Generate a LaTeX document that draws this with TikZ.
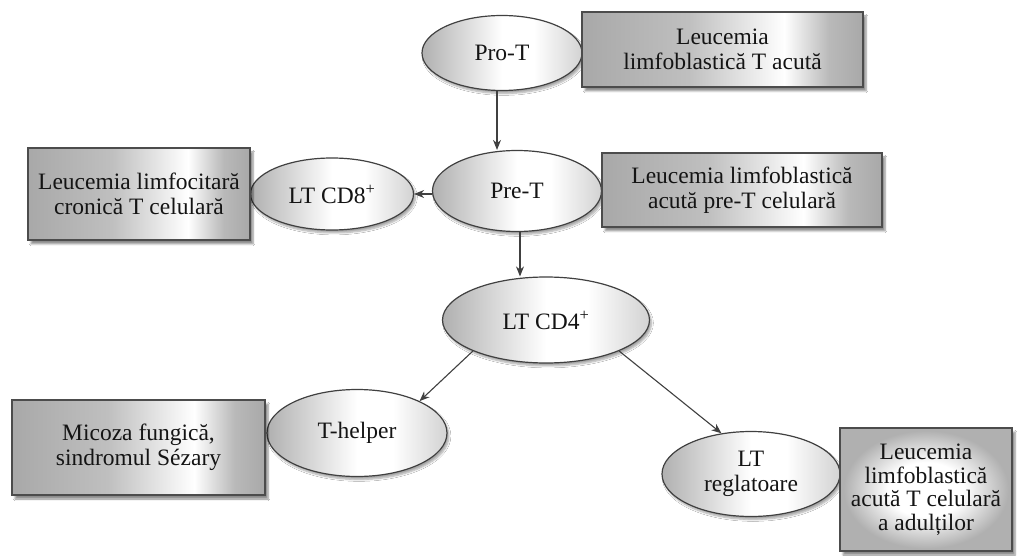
\documentclass[tikz,border=0pt]{standalone}
\usepackage{fontspec}
\setmainfont{Liberation Serif}
\usetikzlibrary{shapes.geometric,arrows.meta,shadows.blur}

% soft light band for the cell ellipses
\pgfdeclarehorizontalshading{cellshade}{100bp}{color(0bp)=(gray!62); color(25bp)=(gray!62); color(50bp)=(white); color(60bp)=(white); color(75bp)=(gray!35); color(100bp)=(gray!35)}
% gray panel with a bright band towards the right
\pgfdeclarehorizontalshading{boxshade}{100bp}{color(0bp)=(gray!68); color(25bp)=(gray!68); color(44bp)=(gray!50); color(61bp)=(white); color(69bp)=(gray!55); color(75bp)=(gray!68); color(100bp)=(gray!68)}
% gray panel with a bright centre
\pgfdeclareradialshading{boxglow}{\pgfpoint{0bp}{0bp}}{color(0bp)=(white); color(11bp)=(white); color(24bp)=(gray!62); color(50bp)=(gray!62)}

\tikzset{
  txt/.style={font=\fontsize{23.5}{25.5}\selectfont, align=center, inner sep=0pt, text=black!92},
  cell/.style={txt, ellipse, draw=black!75, line width=1.2pt, shading=cellshade,
    blur shadow={shadow xshift=2pt, shadow yshift=-3pt, shadow blur steps=6, shadow opacity=35}},
  panel/.style={txt, rectangle, draw=black!70, line width=1.2pt, shading=boxshade,
    blur shadow={shadow xshift=3pt, shadow yshift=-4pt, shadow blur steps=6, shadow opacity=45}},
  link/.style={draw=black!75, line width=1.1pt, -{Stealth[length=10pt,width=8pt]}}
}

\begin{document}
\begin{tikzpicture}[x=1pt,y=1pt]
\fill[white] (0,0) rectangle (1019,555);
\useasboundingbox (0,0) rectangle (1019,555);

% cell stages
\node[cell, minimum width=160pt, minimum height=75pt] (proT) at (502,502) {Pro-T};
\node[cell, minimum width=169pt, minimum height=81pt] (preT) at (517,364) {Pre-T};
\node[cell, minimum width=163pt, minimum height=72pt] (cd8) at (332,361) {LT CD8\textsuperscript{+}};
\node[cell, minimum width=207pt, minimum height=86pt] (cd4) at (546,235) {LT CD4\textsuperscript{+}};
\node[cell, minimum width=180pt, minimum height=87pt] (th) at (357,122) {T-helper};
\node[cell, minimum width=178pt, minimum height=85pt] (treg) at (751,81) {LT\\reglatoare};

% associated diseases
\node[panel, minimum width=281pt, minimum height=75pt] (d1) at (722.5,505.5) {Leucemia\\limfoblastică T acută};
\node[panel, minimum width=280pt, minimum height=74pt] (d2) at (742,365) {Leucemia limfoblastică\\acută pre-T celulară};
\node[panel, minimum width=222pt, minimum height=92pt] (d3) at (139,361) {Leucemia limfocitară\\cronică T celulară};
\node[panel, minimum width=253pt, minimum height=95pt] (d4) at (138.5,107.5) {Micoza fungică,\\sindromul Sézary};
\node[panel, shading=boxglow, minimum width=172pt, minimum height=123pt,
  font=\fontsize{23.5}{23.5}\selectfont] (d5) at (926,65.5) {Leucemia\\limfoblastică\\acută T celulară\\a adulților};

% differentiation
\draw[link] ([xshift=-5pt]proT.south) -- ([xshift=-5pt]proT.south |- preT.north);
\draw[link] (preT.west |- cd8.east) -- (cd8.east);
\draw[link] ([xshift=3pt]preT.south) -- ([xshift=3pt]preT.south |- cd4.north);
\draw[link] (cd4.203) -- (th.27);
\draw[link] (cd4.337) -- (treg.126);
\end{tikzpicture}
\end{document}
